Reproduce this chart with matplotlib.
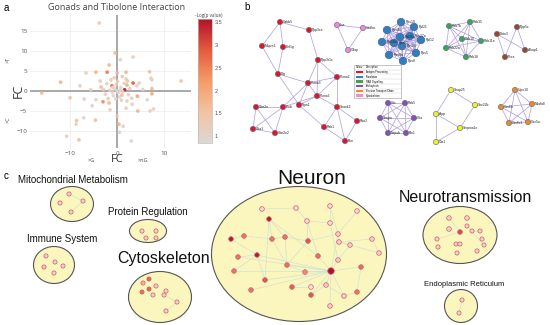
import numpy as np
import matplotlib
matplotlib.use("Agg")
import matplotlib.pyplot as plt
from matplotlib.colors import LinearSegmentedColormap
from matplotlib.patches import Ellipse, Rectangle

W, H = 550, 325

# ---- panel a: fold change scatter (x, y, -log p) ----
fc_x = [-3.8, -0.4, 3.4, -1.7, 0.7, -4.5, -2.1, -6.6, 6.9, 0.0, 1.9, 1.9, 3.4, 2.1, 13.6,
        -12.0, -16.0, -7.9, -5.6, -3.4, -1.1, 1.6, 4.2, 5.5, 7.4, 7.4, -10.0, 4.3, 1.0, -3.0,
        -4.5, -7.0, -5.3, -1.7, -1.5, 2.1, 3.2, 4.4, 7.0, 7.7, 1.9, 0.0, 0.4, 1.3, 0.5,
        -4.6, -7.1, -8.6, -8.7, -10.7, -8.1, 3.0, 6.4, 7.4, 4.7, 7.2,
        -0.5, 0.3, -1.0, 0.8, -0.2, 0.5, -1.6, 1.2, -0.8, 0.1, -2.2, 2.4, -2.5, 1.5,
        -1.3, 0.9, -0.3, 2.7, -2.9, 0.0, -0.6, 1.1, -1.9, 3.1, -3.6, 2.2, -0.9, 0.6]
fc_y = [17.0, 9.5, 8.5, 6.5, 7.8, 4.7, 4.7, 4.5, 4.8, 4.5, 4.7, 3.0, 2.0, 1.5, 2.5,
        2.2, -0.5, 1.3, 0.3, 1.0, 1.3, 0.3, 1.3, 0.3, 0.6, -0.7, -1.7, -1.3, -1.0, -2.7,
        -2.2, -2.0, -3.7, -3.0, -4.7, -2.5, -3.3, -5.0, -5.0, -4.5, -4.3, -6.3, -8.3, -8.8, -10.3,
        -7.3, -6.7, -7.4, -8.3, -11.3, -12.2, -12.5, -2.2, 2.8, 2.0, 3.2,
        0.5, -0.4, -0.3, 0.9, 1.6, -1.5, 0.2, -0.2, -1.2, 2.4, 1.8, -0.9, -0.8, 1.9,
        2.8, -2.3, -2.0, 0.6, 0.4, 0.0, 3.3, 3.6, -1.9, -1.8, 2.5, 2.5, 0.9, 0.2]
neg_log_p = [1.4, 1.7, 1.2, 1.8, 1.1, 1.8, 2.6, 1.2, 1.6, 1.7, 1.8, 1.3, 2.9, 1.9, 1.6,
             1.8, 1.7, 1.2, 1.1, 1.7, 2.7, 3.5, 1.1, 1.2, 1.8, 2.0, 1.6, 2.1, 1.7, 2.4,
             1.1, 1.2, 1.1, 1.8, 1.1, 1.2, 1.1, 1.8, 1.1, 1.1, 1.2, 1.5, 1.8, 1.1, 1.0,
             1.7, 1.1, 1.6, 1.1, 1.1, 1.7, 1.0, 1.1, 1.1, 1.2, 1.2,
             1.0, 0.95, 1.0, 1.05, 1.0, 1.0, 1.1, 1.0, 0.95, 1.1, 1.2, 1.1, 1.15, 1.2,
             1.3, 1.1, 1.0, 1.3, 1.2, 1.0, 1.2, 1.4, 1.3, 1.2, 1.3, 1.5, 1.05, 1.0]
cbar_ticks = [1, 1.5, 2, 2.5, 3, 3.5]

# ---- panel b: protein network ----
node_names = ["Gabb5", "Ppp3ca", "Mapre1", "Eef1g", "Ppp3r1c", "Dlg", "Psma2", "Psma3", "Psma6",
              "Fgm1", "Elob", "Ube2e", "Shank2", "Uba1", "Ube2n2", "Rab1", "Rbo2", "Bsn",
              "Ilna", "Hadha", "Ollap",
              "Rps10", "Rpl21", "Rps4x", "Rpl35a", "Rps27a", "Rpl10a", "Rps13", "Rpl12",
              "Rps26", "Rps3a", "Rps5", "Rps8",
              "Rab7b", "Rab35", "Rab10", "Rab11a", "Rab22a", "Rab18",
              "Dctn3", "Ppp5c", "Akap1", "Pcca",
              "Cltc", "Rab5", "Sergin", "Clta", "Nepub", "Bin1",
              "Snap25", "Sec22b", "App", "Serpina1e", "Ola1",
              "Uqcr10", "Cox6b", "Ndufa8", "Cox6c2", "Cox5a"]
node_x = [280, 309, 262, 283, 318, 278, 337, 308, 317, 299, 283, 256, 337, 253, 275, 324, 357, 345,
          337, 363, 348,
          401, 414, 387, 400, 410, 382, 394, 421, 402, 389, 416, 403,
          449, 470, 462, 481, 446, 466,
          497, 517, 525, 505,
          388, 405, 380, 414, 388, 406,
          451, 475, 436, 460, 436,
          515, 501, 532, 509, 528]
node_y = [22, 30, 46, 47, 60, 74, 77, 83, 96, 105, 107, 107, 107, 129, 133, 127, 121, 141,
          25, 28, 50,
          22, 27, 30, 37, 36, 42, 43, 40, 46, 55, 53, 61,
          26, 22, 39, 41, 48, 57,
          34, 27, 50, 57,
          103, 103, 118, 118, 133, 133,
          90, 105, 114, 128, 142,
          90, 107, 104, 123, 122]
node_group = ([0] * 18 + [5] * 3 + [1] * 12 + [2] * 6 + [6] * 4 + [3] * 6 + [7] * 5 + [4] * 5)
group_colors = ["#e8141c", "#2f7fc0", "#3aa84a", "#8b4fb0", "#f08a1c", "#f08cc8", "#9c4a1c", "#f2f21c"]
net_edges = [("Gabb5", "Ppp3ca"), ("Gabb5", "Mapre1"), ("Gabb5", "Eef1g"), ("Eef1g", "Dlg"),
             ("Mapre1", "Dlg"), ("Ppp3ca", "Ppp3r1c"), ("Ppp3r1c", "Psma2"), ("Ppp3r1c", "Psma3"),
             ("Ppp3r1c", "Psma6"), ("Psma2", "Psma3"), ("Psma3", "Psma6"), ("Psma2", "Psma6"),
             ("Dlg", "Psma3"), ("Dlg", "Fgm1"), ("Psma3", "Elob"), ("Psma6", "Elob"), ("Fgm1", "Rab1"),
             ("Psma6", "Shank2"), ("Shank2", "Rbo2"), ("Shank2", "Bsn"), ("Rbo2", "Bsn"),
             ("Shank2", "Rab1"), ("Rab1", "Bsn"), ("Ube2e", "Elob"), ("Ube2e", "Uba1"),
             ("Ube2e", "Ube2n2"), ("Elob", "Uba1"), ("Elob", "Ube2n2"), ("Uba1", "Ube2n2"),
             ("Fgm1", "Psma3"), ("Fgm1", "Psma6"), ("Psma2", "Shank2"),
             ("Ilna", "Hadha"), ("Ilna", "Ollap"), ("Hadha", "Ollap"),
             ("Dctn3", "Akap1"), ("Ppp5c", "Pcca"), ("Dctn3", "Pcca"), ("Ppp5c", "Akap1"),
             ("Snap25", "Sec22b"), ("Snap25", "App"), ("Sec22b", "Serpina1e"), ("App", "Serpina1e"),
             ("App", "Ola1"), ("Serpina1e", "Ola1")]
full_groups = [1, 2, 3, 4]
legend_labels = ["Antigen Processing", "Translation", "RAB Signalling", "Endocytosis",
                 "Electron Transport Chain", "Cytoskeleton"]

# ---- panel c: functional clusters ----
cl_names = ["Mitochondrial Metabolism", "Protein Regulation", "Immune System", "Cytoskeleton",
            "Neuron", "Neurotransmission", "Endoplasmic Reticulum"]
cl_cx = [72, 148, 54, 160, 299, 460, 461]
cl_cy = [204, 231, 265, 297, 254, 235, 306]
cl_w = [43, 37, 41, 63, 175, 74, 33]
cl_h = [35, 23, 37, 51, 135, 57, 33]
cl_label_x = [73, 148, 62, 164, 312, 465, 464]
cl_label_y = [180, 212, 239, 258, 179, 198, 285]
cl_fontsize = [7, 7, 7, 11.5, 15, 11.5, 5.5]

# nodes: cluster index, x, y, level (0 pale .. 1 dark)
gene_cluster = [0, 0, 0, 0,
                1, 1, 1, 1,
                2, 2, 2, 2, 2,
                3, 3, 3, 3, 3, 3, 3, 3, 3, 3,
                4, 4, 4, 4, 4, 4, 4, 4, 4, 4, 4, 4, 4, 4, 4, 4, 4, 4, 4, 4, 4, 4, 4, 4, 4, 4, 4,
                4, 4, 4, 4, 4, 4, 4, 4, 4, 4, 4, 4,
                5, 5, 5, 5, 5, 5, 5, 5, 5, 5, 5, 5, 5, 5, 5,
                6, 6]
gene_x = [69, 60, 83, 71,
          142, 156, 146, 156,
          46, 55, 44, 63, 54,
          149, 143, 156, 149, 142, 153, 164, 166, 177, 166,
          262, 296, 330, 357, 269, 307, 330, 231, 244, 272, 285, 308, 338, 339, 350, 372, 379,
          238, 257, 318, 338, 287, 234, 305, 331, 361, 265, 326, 311, 251, 292, 311, 357, 344, 330,
          449, 467, 449, 460, 467, 472, 480, 482, 484, 437, 438, 456, 460, 457, 477,
          462, 459]
gene_y = [194, 203, 201, 212,
          231, 231, 238, 238,
          256, 262, 267, 266, 273,
          279, 283, 286, 289, 292, 295, 295, 291, 302, 311,
          209, 208, 206, 211, 219, 221, 223, 239, 236, 239, 237, 241, 234, 242, 245, 239, 253,
          257, 255, 256, 260, 265, 271, 272, 271, 267, 280, 285, 287, 290, 287, 295, 292, 296, 306,
          218, 218, 229, 232, 226, 231, 231, 239, 245, 239, 247, 244, 244, 253, 251,
          300, 313]
gene_level = [0.1, 0.1, 0.1, 0.1,
              0.1, 0.1, 0.1, 0.1,
              0.1, 0.1, 0.15, 0.1, 0.1,
              0.6, 0.2, 0.1, 0.6, 0.55, 0.1, 0.1, 0.1, 0.1, 0.1,
              0.05, 0.05, 0.05, 0.05, 0.95, 0.05, 0.05, 0.95, 0.5, 0.5, 0.5, 0.7, 0.1, 0.1, 0.1, 0.1, 0.1,
              0.5, 0.95, 0.55, 0.1, 0.55, 0.5, 0.35, 1.0, 0.55, 0.7, 0.1, 0.02, 0.5, 0.65, 0.7, 0.5, 0.1, 0.1,
              0.1, 0.1, 0.1, 0.75, 0.1, 0.1, 0.1, 0.1, 0.1, 0.1, 0.1, 0.1, 0.1, 0.1, 0.1,
              0.1, 0.1]
gene_edges = [(0, 2), (2, 3), (19, 20), (19, 21), (21, 22), (13, 14), (15, 16),
              (23, 24), (27, 32), (27, 42), (27, 49), (27, 33), (28, 34), (28, 29), (25, 29),
              (25, 35), (35, 36), (36, 38), (37, 36), (39, 36), (38, 39), (28, 42),
              (30, 31), (31, 32), (32, 33), (33, 34), (34, 35), (29, 43), (26, 35),
              (41, 40), (41, 45), (41, 49), (41, 47), (45, 47), (49, 47), (52, 47), (44, 47),
              (40, 47), (47, 50), (47, 57), (47, 43), (47, 48), (47, 56), (47, 42), (47, 35),
              (48, 55), (50, 54), (51, 53), (44, 46), (32, 44), (33, 44), (34, 44), (46, 47),
              (53, 47), (54, 47), (50, 56), (55, 56), (43, 37), (24, 28), (30, 41),
              (58, 61), (62, 66), (69, 70), (61, 67), (63, 64), (73, 74)]

fig = plt.figure(figsize=(5.5, 3.25), dpi=100)
plt.rcParams['font.family'] = ['Liberation Sans', 'DejaVu Sans']


def fx(x):
    return x / W


def fy(y):
    return 1 - y / H


# panel a
cmap = LinearSegmentedColormap.from_list("plog", ["#dcd8d4", "#f2c3a2", "#f59c66", "#e55a3e", "#b3122a"])
ax = fig.add_axes([fx(30), fy(148), 161 / W, 133 / H])
ax.set_xlim(-18.5, 15.7)
ax.set_ylim(-14.25, 19)
for s in ax.spines.values():
    s.set_visible(False)
ax.grid(True, color="#ececec", lw=0.5)
ax.set_axisbelow(True)
ax.axhline(0, color="#a9a9a9", lw=1.4, zorder=1)
ax.axvline(0, color="#a9a9a9", lw=1.4, zorder=1)
sc = ax.scatter(fc_x, fc_y, c=neg_log_p, cmap=cmap, vmin=0.85, vmax=3.57, s=7, alpha=0.9,
                linewidths=0, zorder=3)
ax.set_xticks([-10, 0, 10])
ax.set_yticks([-10, -5, 0, 5, 10, 15])
ax.tick_params(length=0, labelsize=4.5, labelcolor="#555555", pad=2, labelfontfamily="Open Sans")

cax = fig.add_axes([fx(198), fy(143), 14 / W, 124 / H])
cb = fig.colorbar(sc, cax=cax, ticks=cbar_ticks)
cb.solids.set_alpha(1)
cb.ax.set_yticklabels(["1", "1.5", "2", "2.5", "3", "3.5"])
cb.ax.tick_params(length=0, labelsize=4, labelcolor="#555555", pad=2)
cb.outline.set_edgecolor("#bbbbbb")
cb.outline.set_linewidth(0.5)
fig.text(fx(209), fy(15), "-Log(p value)", fontsize=3.3, ha="center", va="center", color="#444444",
         family="Open Sans")

fig.text(fx(117), fy(8), "Gonads and Tibolone Interaction", fontsize=6.5, ha="center", va="center",
         color="#444444", family="Open Sans")
fig.text(fx(18), fy(91), "FC", fontsize=9, rotation=90, ha="center", va="center", color="#333333",
         family="Open Sans")
fig.text(fx(8), fy(60), ">T", fontsize=4, rotation=90, ha="center", va="center", color="#444444",
         family="Open Sans")
fig.text(fx(8), fy(120), ">C", fontsize=4, rotation=90, ha="center", va="center", color="#444444",
         family="Open Sans")
fig.text(fx(117), fy(160), "FC", fontsize=8, ha="center", va="center", color="#333333", family="Open Sans")
fig.text(fx(91), fy(161), ">G", fontsize=4, ha="center", va="center", color="#444444", family="Open Sans")
fig.text(fx(143), fy(161), ">nG", fontsize=4, ha="center", va="center", color="#444444", family="Open Sans")
fig.text(fx(6), fy(8), "a", fontsize=7, ha="center", va="center")

# panels b and c drawn on a pixel-space canvas
cv = fig.add_axes([0, 0, 1, 1], zorder=-1)
cv.set_xlim(0, W)
cv.set_ylim(H, 0)
cv.axis("off")
cv.text(247, 7, "b", fontsize=7, ha="center", va="center")
cv.text(6, 176, "c", fontsize=7, ha="center", va="center")

pos = {n: (x, y) for n, x, y in zip(node_names, node_x, node_y)}
edges = list(net_edges)
for g in full_groups:
    members = [n for n, gg in zip(node_names, node_group) if gg == g]
    for i in range(len(members)):
        for j in range(i + 1, len(members)):
            edges.append((members[i], members[j]))
for a, b in edges:
    cv.plot([pos[a][0], pos[b][0]], [pos[a][1], pos[b][1]], color="#b3a3e0", lw=0.55, zorder=1)
sizes = [30 if g == 1 else 14 for g in node_group]
cv.scatter(node_x, node_y, s=sizes, c=[group_colors[g] for g in node_group],
           edgecolors="#4a5a8a", linewidths=0.4, zorder=2)
for n, x, y, g in zip(node_names, node_x, node_y, node_group):
    off = 4.5 if g == 1 else 2.8
    cv.text(x + off, y, n, fontsize=2.4, ha="left", va="center", color="#222222", zorder=3)

# legend table
lx0, ly0, lw_, lh_ = 354, 65, 47, 33
cv.add_patch(Rectangle((lx0, ly0), lw_, lh_, facecolor="white", edgecolor="#999999", lw=0.4, zorder=4))
row_h = lh_ / 7
cv.plot([lx0 + 10, lx0 + 10], [ly0, ly0 + lh_], color="#cccccc", lw=0.3, zorder=5)
cv.text(lx0 + 1.5, ly0 + row_h / 2, "Colour", fontsize=1.8, va="center", zorder=5)
cv.text(lx0 + 11.5, ly0 + row_h / 2, "Description", fontsize=1.8, va="center", zorder=5)
legend_cols = [group_colors[0], group_colors[1], group_colors[2], group_colors[3],
               group_colors[4], group_colors[5]]
for i, (lab, col) in enumerate(zip(legend_labels, legend_cols)):
    yy = ly0 + row_h * (i + 1)
    cv.plot([lx0, lx0 + lw_], [yy, yy], color="#cccccc", lw=0.3, zorder=5)
    cv.add_patch(Rectangle((lx0 + 1.5, yy + 1.2), 7, row_h - 2.4, facecolor=col, lw=0, zorder=5))
    cv.text(lx0 + 11.5, yy + row_h / 2, lab, fontsize=1.8, va="center", zorder=5)

# panel c clusters
for i in range(len(cl_names)):
    cv.add_patch(Ellipse((cl_cx[i], cl_cy[i]), cl_w[i], cl_h[i], facecolor="#fbf6bd",
                         edgecolor="#555555", lw=0.8, zorder=1))
    cv.text(cl_label_x[i], cl_label_y[i], cl_names[i], fontsize=cl_fontsize[i], ha="center",
            va="center", color="#111111")
for a, b in gene_edges:
    cv.plot([gene_x[a], gene_x[b]], [gene_y[a], gene_y[b]], color="#cfe2d6", lw=0.5, zorder=2)
node_cmap = LinearSegmentedColormap.from_list("gene", ["#fde6e6", "#ee8c78", "#e0604e", "#b0102a"])
gsizes = [22 if lv == 1.0 else (11 if c == 4 else 9) for lv, c in zip(gene_level, gene_cluster)]
cv.scatter(gene_x, gene_y, s=gsizes, c=gene_level, cmap=node_cmap, vmin=0, vmax=1,
           edgecolors="#c8606c", linewidths=0.5, zorder=3)

fig.savefig("out.png", dpi=100)
